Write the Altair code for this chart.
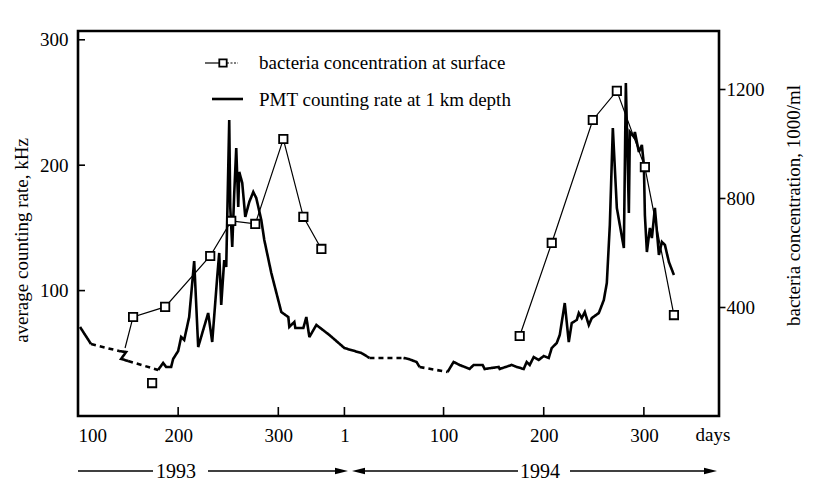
import altair as alt
import pandas as pd

FONT = "Liberation Serif, DejaVu Serif, serif"

# ---------------- data ----------------
# day axis: day of 1993; days of 1994 continue as 365 + day-of-year
pmt_day = [102, 113, 141, 148, 143, 150, 180,
           185, 188, 193, 195, 200, 203, 206, 211, 216, 220,
           225, 230, 234, 239, 241, 243, 246, 248, 251, 252,
           254, 256, 258, 260, 261, 264, 267, 271, 275, 278,
           283, 286, 293, 303, 310, 311, 316, 317, 325, 328,
           331, 338, 351, 366, 383, 391, 425, 430, 438, 441,
           469, 475, 481, 491, 495, 504, 506, 520, 521, 533,
           538, 545, 548, 551, 555, 560, 565, 570, 573, 578,
           581, 586, 590, 593, 598, 600, 603, 606, 610, 613,
           620, 625, 628, 631, 634, 638, 645, 647, 650, 651,
           655, 656, 658, 660, 663, 665, 666, 668, 671, 673,
           676, 680, 683, 686, 690, 695]
pmt_rate = [71.0, 57.4, 51.8, 51.0, 45.5, 43.9, 36.7,
            42.3, 39.1, 39.1, 45.5, 51.8, 63.0, 60.6, 78.9, 123.6, 55.0,
            68.6, 82.1, 59.0, 110.8, 130.0, 88.5, 124.4, 118.8, 236.0, 166.7,
            134.8, 177.8, 213.7, 166.7, 194.6, 185.8, 158.7, 170.7, 178.6, 173.8,
            156.3, 140.4, 114.0, 82.9, 78.9, 71.0, 75.0, 70.2, 70.2, 78.9,
            63.0, 72.6, 64.6, 54.2, 50.2, 46.3, 46.3, 45.5, 43.1, 39.1,
            35.1, 43.1, 40.7, 37.5, 40.7, 40.7, 37.5, 39.1, 37.5, 40.7,
            39.1, 37.5, 43.1, 40.7, 47.0, 44.7, 47.8, 46.3, 54.2, 58.2,
            64.6, 90.1, 59.0, 74.2, 76.6, 82.1, 78.1, 82.9, 72.6, 78.1,
            82.1, 92.5, 106.1, 152.3, 229.7, 165.9, 134.0, 265.6, 161.9, 226.5,
            222.5, 226.5, 218.5, 210.5, 216.1, 200.2, 160.3, 130.8, 149.9, 141.9,
            165.9, 128.4, 138.8, 136.4, 122.8, 112.4]
# pieces of the record: measured (solid) or bridged gap (dashed)
pmt_breaks = [0, 1, 2, 5, 6, 52, 53, 56, 57, 112]
pmt_styles = ["solid", "dashed", "solid", "dashed", "solid",
              "dashed", "solid", "dashed", "solid"]

bact_day = [147, 155, 187, 232, 253, 277, 305, 325, 343, 174,
            541, 573, 614, 638, 666, 695]
bact_conc = [250, 364, 401, 588, 717, 706, 1018, 732, 614, 121,
             294, 636, 1088, 1195, 915, 371]
bact_run = [1, 1, 1, 1, 1, 1, 1, 1, 1, 2, 3, 3, 3, 3, 3, 3]
bact_marker = [False] + [True] * 15

x_ticks = [100, 200, 300, 366, 465, 565, 665]
left_ticks = [100, 200, 300]
right_ticks = [400, 800, 1200]
legend_labels = ["bacteria concentration at surface",
                 "PMT counting rate at 1 km depth"]
year_labels = ["1993", "1994"]

assert len(pmt_day) == len(pmt_rate)

rows = []
for k in range(len(pmt_breaks) - 1):
    for i in range(pmt_breaks[k], pmt_breaks[k + 1] + 1):
        rows.append(dict(day=pmt_day[i], rate=pmt_rate[i], piece=k,
                         style=pmt_styles[k], i=i))
pmt_df = pd.DataFrame(rows)

bact_df = pd.DataFrame(dict(day=bact_day, conc=bact_conc, run=bact_run,
                            marker=bact_marker, i=list(range(len(bact_day)))))
xt_df = pd.DataFrame(dict(day=x_ticks))
lt_df = pd.DataFrame(dict(rate=left_ticks))
one = pd.DataFrame(dict(a=[0]))

W, H = 641, 385
xscale = alt.Scale(domain=[100, 740], nice=False, zero=False)
x_axis = alt.Axis(values=x_ticks, ticks=False, domain=False, grid=False,
                  labelExpr="datum.value > 365 ? datum.value - 365 : datum.value",
                  labelFontSize=19, labelPadding=10, labelFlush=True, title=None)
x_enc = alt.X("day:Q", scale=xscale, axis=x_axis)
pmt_scale = alt.Scale(domain=[0, 307], nice=False, zero=False)
bact_scale = alt.Scale(domain=[0, 1415], nice=False, zero=False)

pmt_line = alt.Chart(pmt_df).mark_line(color="black", strokeWidth=2.6,
                                       strokeJoin="miter", strokeMiterLimit=3).encode(
    x=x_enc,
    y=alt.Y("rate:Q", scale=pmt_scale,
            axis=alt.Axis(orient="left", values=left_ticks, ticks=False, domain=False,
                          grid=False, labelFontSize=19, labelPadding=10,
                          title="average counting rate, kHz", titleFontSize=19,
                          titleAngle=270, titleX=-51, titleY=209, titleAlign="center",
                          titleBaseline="alphabetic")),
    detail="piece:N",
    strokeDash=alt.StrokeDash("style:N", scale=alt.Scale(domain=["solid", "dashed"],
                                                        range=[[1, 0], [5, 4]]),
                              legend=None),
    order="i:Q",
)

left_tick_marks = alt.Chart(lt_df).mark_rule(color="black", strokeWidth=1.6).encode(
    y=alt.Y("rate:Q", scale=pmt_scale, axis=None),
    x=alt.value(0), x2=alt.value(7),
)

bact_line = alt.Chart(bact_df).mark_line(color="black", strokeWidth=1.2).encode(
    x=x_enc,
    y=alt.Y("conc:Q", scale=bact_scale,
            axis=alt.Axis(orient="right", values=right_ticks, format="d", tickSize=6,
                          tickWidth=1.6, tickColor="black", domain=False, grid=False,
                          labelFontSize=19, labelPadding=1,
                          title="bacteria concentration, 1000/ml", titleFontSize=19,
                          titleAngle=270, titleX=80, titleY=174, titleAlign="center",
                          titleBaseline="alphabetic")),
    detail="run:N",
    order="i:Q",
)

bact_pts = alt.Chart(bact_df).transform_filter("datum.marker").mark_point(
    shape="square", size=70, filled=True, fill="white", stroke="black",
    strokeWidth=1.8, opacity=1).encode(
    x=x_enc,
    y=alt.Y("conc:Q", scale=bact_scale, axis=None),
)

x_tick_marks = alt.Chart(xt_df).mark_rule(color="black", strokeWidth=1.6).encode(
    x=x_enc, y=alt.value(H), y2=alt.value(H - 9),
)

days_text = alt.Chart(one).mark_text(text="days", fontSize=19, baseline="alphabetic",
                                     align="center").encode(
    x=alt.value(635), y=alt.value(410))

# legend
leg = []
leg.append(alt.Chart(one).mark_rule(color="black", strokeWidth=1.2).encode(
    x=alt.value(127), x2=alt.value(141), y=alt.value(32)))
leg.append(alt.Chart(one).mark_rule(color="black", strokeWidth=1.2,
                                    strokeDash=[2, 1.5]).encode(
    x=alt.value(149), x2=alt.value(160), y=alt.value(32)))
leg.append(alt.Chart(one).mark_point(shape="square", size=55, filled=True, fill="white",
                                     stroke="black", strokeWidth=1.8, opacity=1).encode(
    x=alt.value(145), y=alt.value(32)))
leg.append(alt.Chart(one).mark_rule(color="black", strokeWidth=2.6).encode(
    x=alt.value(134), x2=alt.value(165), y=alt.value(68)))
leg.append(alt.Chart(one).mark_text(text=legend_labels[0], fontSize=19, align="left",
                                    baseline="alphabetic").encode(
    x=alt.value(181), y=alt.value(38)))
leg.append(alt.Chart(one).mark_text(text=legend_labels[1], fontSize=19, align="left",
                                    baseline="alphabetic").encode(
    x=alt.value(181), y=alt.value(75)))

# year arrows below the axis
RY = 440
arr = []
for a, b in [(0, 75), (130, 264), (280, 440), (492, 633)]:
    arr.append(alt.Chart(one).mark_rule(color="black", strokeWidth=1.4).encode(
        x=alt.value(a), x2=alt.value(b), y=alt.value(RY)))
arr.append(alt.Chart(one).mark_point(shape="M-1,-0.5L1,0L-1,0.5Z", size=169, filled=True,
                                     color="black", opacity=1).encode(
    x=alt.value(263.5), y=alt.value(RY)))
arr.append(alt.Chart(one).mark_point(shape="M1,-0.5L-1,0L1,0.5Z", size=169, filled=True,
                                     color="black", opacity=1).encode(
    x=alt.value(280.5), y=alt.value(RY)))
arr.append(alt.Chart(one).mark_point(shape="M-1,-0.5L1,0L-1,0.5Z", size=169, filled=True,
                                     color="black", opacity=1).encode(
    x=alt.value(632.5), y=alt.value(RY)))
arr.append(alt.Chart(one).mark_text(text=year_labels[0], fontSize=20, baseline="middle",
                                    align="center").encode(
    x=alt.value(98), y=alt.value(RY + 1)))
arr.append(alt.Chart(one).mark_text(text=year_labels[1], fontSize=20, baseline="middle",
                                    align="center").encode(
    x=alt.value(462), y=alt.value(RY + 1)))

chart = alt.layer(
    pmt_line, left_tick_marks, bact_line, bact_pts, x_tick_marks, days_text,
    *leg, *arr
).resolve_scale(y="independent").properties(
    width=W, height=H,
    autosize=alt.AutoSizeParams(type="none"),
    padding={"left": 70, "top": 23, "right": 90, "bottom": 68},
).configure_axis(
    labelFont=FONT, titleFont=FONT, labelColor="black", titleColor="black",
    titleFontWeight="normal",
).configure_text(font=FONT, color="black").configure_view(
    stroke="black", strokeWidth=2.6
)

chart.save("out.html", embed_options={"renderer": "svg", "actions": False})
